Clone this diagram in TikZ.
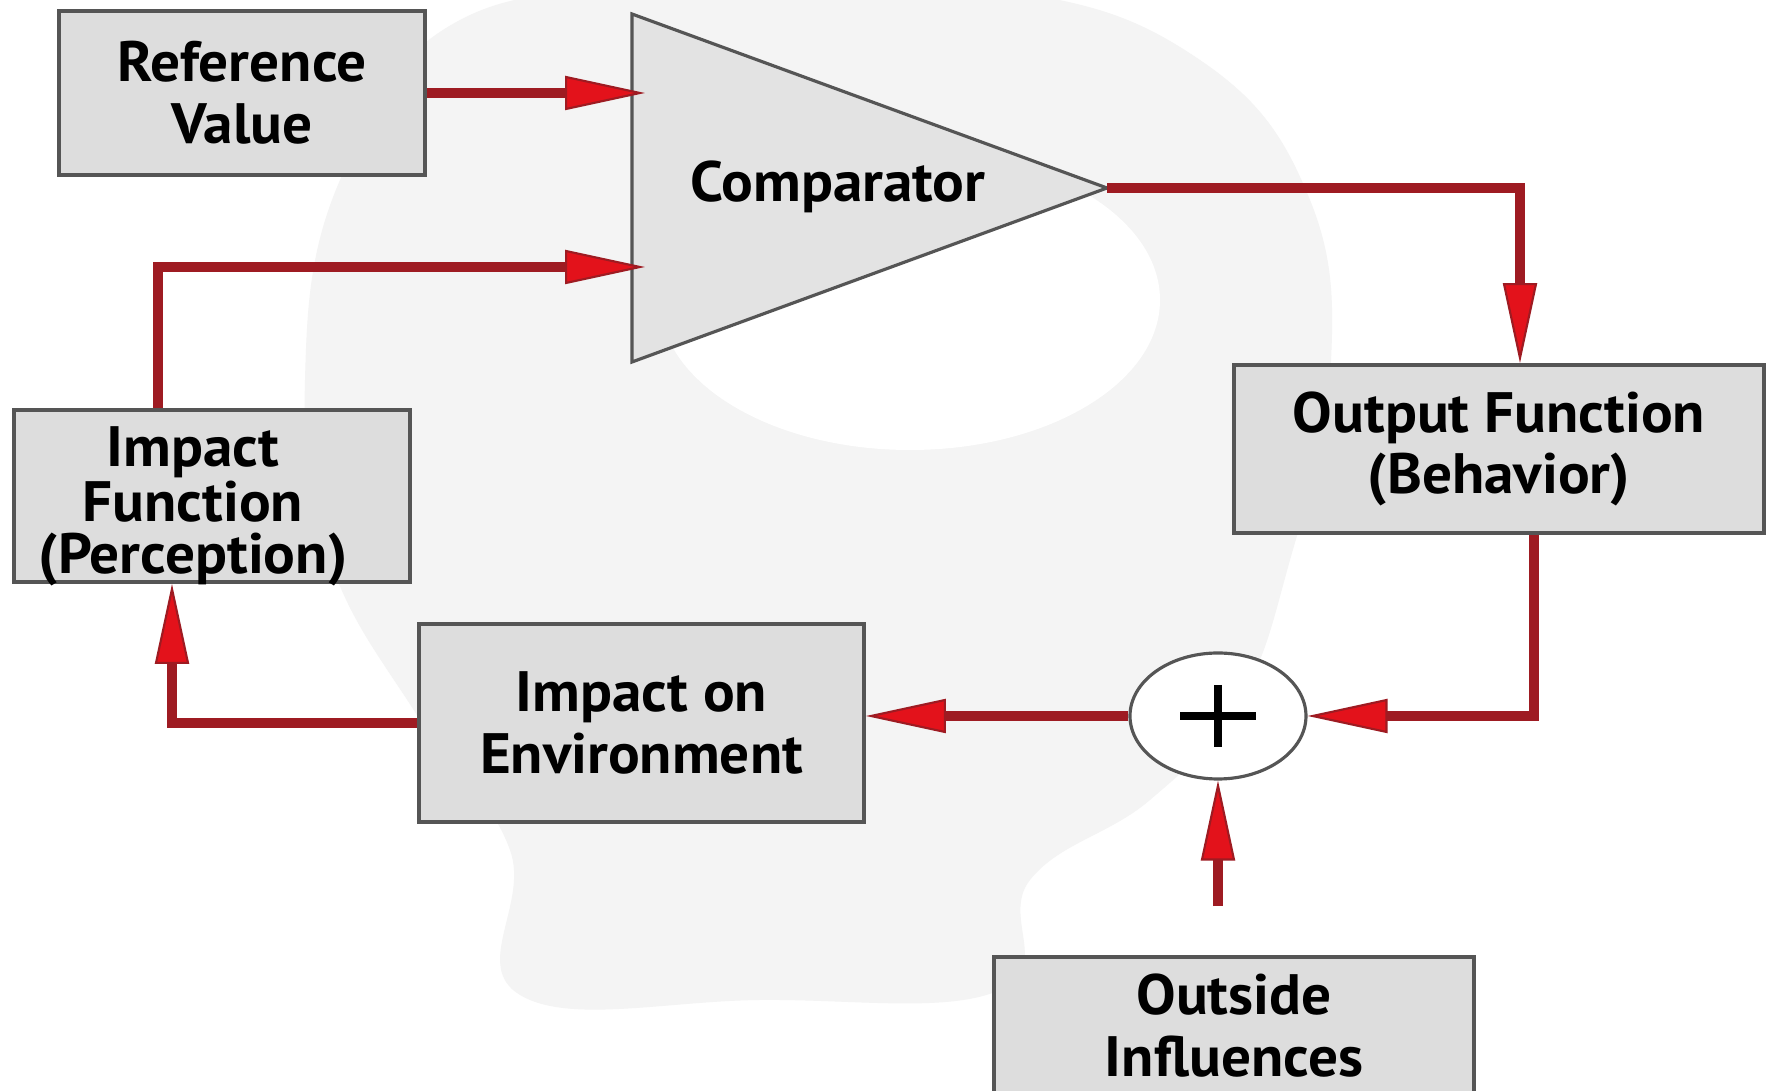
\documentclass[tikz,border=0pt]{standalone}
\usepackage{fontspec}
\setmainfont{PT Sans}[FakeStretch=1.04]
\usetikzlibrary{arrows.meta,shapes.geometric,calc}
\definecolor{shaft}{HTML}{9E1B22}
\definecolor{headred}{HTML}{E3121B}
\definecolor{boxfill}{HTML}{DDDDDD}
\definecolor{boxline}{HTML}{555555}
\definecolor{trifill}{HTML}{E3E3E3}
\definecolor{wm}{HTML}{F4F4F4}
\tikzset{
  lbl/.style={font=\fontsize{16.2}{17.6}\selectfont\bfseries, align=center, inner sep=0pt},
  box/.style={draw=boxline, line width=1.1pt, fill=boxfill, align=center,
    font=\fontsize{16.2}{17.6}\selectfont\bfseries, inner sep=0pt},
  conn/.style={draw=shaft, line width=2.6pt,
    -{Triangle[length=8mm,width=3.4mm,fill=headred,color=shaft,line width=0.6pt]}},
  tri/.style={draw=boxline, line width=0.9pt, fill=trifill},
}
\begin{document}
\begin{tikzpicture}[x=0.1mm,y=-0.1mm]
\useasboundingbox (0,0) rectangle (1775,1091);
\clip (0,0) rectangle (1775,1091);
\fill[white] (0,0) rectangle (1775,1091);
% faint head watermark
\fill[wm] plot[smooth cycle, tension=0.7] coordinates {(460,20) (700,-10) (1000,-10) (1200,60) (1310,200) (1330,380) (1290,560) (1240,700) (1150,800) (1030,880) (1000,990) (760,1000) (520,995) (510,850) (420,720) (330,560) (305,380) (340,180)};
\fill[white] (910,300) ellipse [x radius=250, y radius=150];

% comparator triangle
\coordinate (tA) at (632,14);
\coordinate (tB) at (632,362);
\coordinate (tip) at (1107,188);
\draw[tri] (tA) -- (tip) -- (tB) -- cycle;
\node[lbl] (comp) at (838,187) {Comparator};
\coordinate (in1) at (645,93);
\coordinate (in2) at (645,267);

% boxes
\node[box, minimum width=36.6mm, minimum height=16.4mm] (ref) at (242,93) {Reference\\Value};
\node[box, minimum width=53mm, minimum height=16.8mm] (out) at (1499,449) {Output Function\\(Behavior)};
\node[box, minimum width=39.6mm, minimum height=17.2mm] (perc) at (212,496) {};
\node[lbl, font=\fontsize{16.2}{14.6}\selectfont\bfseries] (percT) at (193,506) {Impact\\Function\\(Perception)};
\node[box, minimum width=44.5mm, minimum height=19.8mm] (env) at (641.5,723) {Impact on\\Environment};
\node[box, minimum width=48mm, minimum height=13.8mm] (outside) at (1234,1026) {Outside\\Influences};
\node[draw=boxline, line width=0.9pt, fill=white, ellipse, minimum width=17.6mm, minimum height=12.6mm, inner sep=0pt] (sum) at (1218,716) {};
\draw[line width=2.2pt] ($(sum.center)+(-38,0)$) -- ($(sum.center)+(38,0)$);
\draw[line width=2.2pt] ($(sum.center)+(0,-31)$) -- ($(sum.center)+(0,31)$);

% connectors
\draw[conn] (ref.east |- in1) -- (in1);
\draw[conn] ([xshift=-5.4mm]perc.north) |- (in2);
\draw[conn] (tip) -| ([xshift=2.1mm]out.north);
\draw[conn] ([xshift=3.5mm]out.south) |- (sum.east);
\draw[conn] (sum.west) -- (sum.west -| env.east);
\draw[conn] (env.west) -| ([xshift=-4mm]perc.south);
\draw[conn, shorten <=4.9mm] (outside.north -| sum.south) -- (sum.south);
\end{tikzpicture}
\end{document}
